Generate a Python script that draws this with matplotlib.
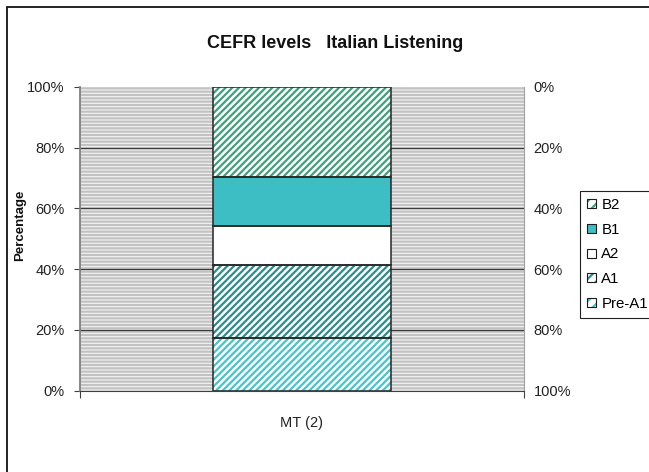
import matplotlib
matplotlib.use("Agg")
import matplotlib.pyplot as plt
from matplotlib.patches import Rectangle, Patch
from matplotlib.legend_handler import HandlerTuple
from matplotlib.ticker import FixedLocator

plt.rcParams['font.family'] = ['Liberation Sans', 'DejaVu Sans']
plt.rcParams['hatch.linewidth'] = 1.6

# data (percent of students per level)
category = 'MT (2)'
levels = ['Pre-A1', 'A1', 'A2', 'B1', 'B2']
values = [17.4, 23.9, 12.9, 16.0, 29.8]
left_ticks = [0, 20, 40, 60, 80, 100]

# look of each level (fill colour, hatch)
styles = {
    'Pre-A1': ('#45C4CA', '/////'),
    'A1': ('#2B8C8C', '/////'),
    'A2': ('#FFFFFF', ''),
    'B1': ('#3DBEC4', ''),
    'B2': ('#3FA07C', '/////'),
}

fig = plt.figure(figsize=(6.49, 4.72), dpi=100)
ax = fig.add_axes([80/649, 1-390.7/472, 444/649, 304/472])

# striped grey plot background
ax.set_facecolor('#F4F4F4')
ax.add_patch(Rectangle((0, 0), 1, 1, transform=ax.transAxes, facecolor='#F4F4F4',
                       edgecolor='#C2C2C2', hatch='-----', lw=0, zorder=0))

for y in left_ticks[1:-1]:
    ax.axhline(y, color='#3C3C3C', lw=0.9, zorder=1)

handles = {}
bottom = 0
for lev, v in zip(levels, values):
    col, h = styles[lev]
    if h:
        ax.bar(0, v, 0.4, bottom=bottom, color='white', edgecolor=col,
               hatch=h, lw=0, zorder=2)
        face = Patch(facecolor='white', edgecolor=col, hatch='///', lw=0)
    else:
        ax.bar(0, v, 0.4, bottom=bottom, color=col, lw=0, zorder=2)
        face = Patch(facecolor=col, lw=0)
    ax.bar(0, v, 0.4, bottom=bottom, fill=False, edgecolor='#262626', lw=1.1, zorder=3)
    outline = Patch(fill=False, edgecolor='#1A1A1A', lw=0.8)
    handles[lev] = (face, outline)
    bottom += v

ax.set_xlim(-0.5, 0.5)
ax.set_ylim(0, 100)

ax.xaxis.set_major_locator(FixedLocator([-0.5, 0.5]))
ax.set_xticklabels(['', ''])
ax.xaxis.set_minor_locator(FixedLocator([0]))
ax.set_xticklabels([category], minor=True)
ax.tick_params(axis='x', which='major', length=5, color='#404040')
ax.tick_params(axis='x', which='minor', length=0, pad=18, labelsize=10.5, labelcolor='#222222')

ax.set_yticks(left_ticks)
ax.set_yticklabels([f'{t}%' for t in left_ticks])
ax.tick_params(axis='y', length=4, pad=7, labelsize=10.5, color='#404040', labelcolor='#222222')

ax.spines['top'].set_visible(False)
ax.spines['left'].set_color('#808080')
ax.spines['left'].set_linewidth(1.3)
ax.spines['bottom'].set_color('#404040')
ax.spines['right'].set_color('#A0A0A0')
ax.spines['right'].set_linewidth(0.8)

ax2 = ax.twinx()
ax2.set_ylim(100, 0)
ax2.set_yticks(left_ticks)
ax2.set_yticklabels([f'{t}%' for t in left_ticks])
ax2.tick_params(axis='y', length=0, pad=7, labelsize=10.5, labelcolor='#222222')
for s in ax2.spines.values():
    s.set_visible(False)

fig.text(335/649, 1-44/472, 'CEFR levels   Italian Listening', ha='center', va='center',
         fontsize=13, fontweight='bold', color='#111111')
fig.text(20/649, 1-225/472, 'Percentage', rotation=90, ha='center', va='center',
         fontsize=9.5, fontweight='bold', color='#111111')

order = levels[::-1]
leg = fig.legend([handles[l] for l in order], order,
                 handler_map={tuple: HandlerTuple(ndivide=1, pad=0)},
                 loc='upper left', bbox_to_anchor=(580/649, 1-191/472),
                 fontsize=10.8, handlelength=0.62, handleheight=0.55,
                 handletextpad=0.35, labelspacing=0.72, borderpad=0.45,
                 borderaxespad=0, fancybox=False, framealpha=1,
                 edgecolor='#222222')
leg.get_frame().set_linewidth(0.8)

# border around the whole chart
fig.patches.append(Rectangle((7/649, -0.1), 1.2, 1.1 - 7/472, transform=fig.transFigure,
                             fill=False, edgecolor='#111111', lw=1.3))

fig.savefig('out.png', dpi=100)
